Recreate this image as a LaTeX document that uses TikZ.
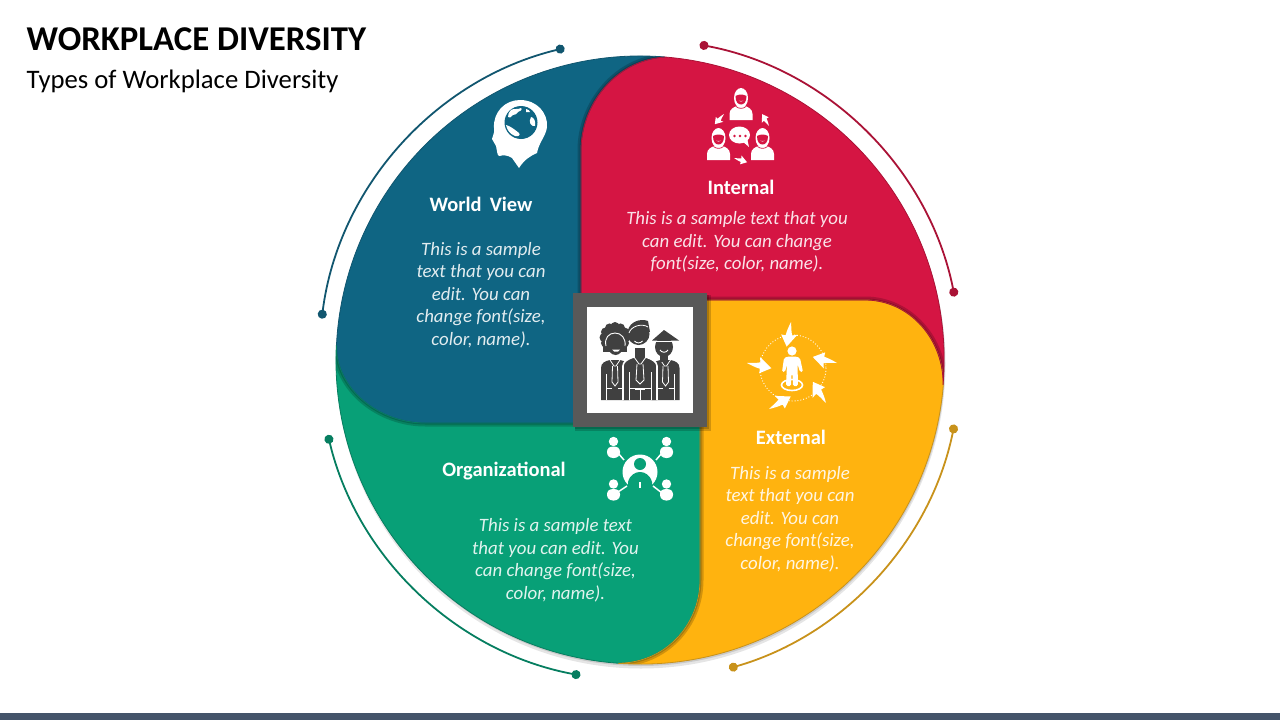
\documentclass[tikz,border=0pt]{standalone}
\usepackage{fontspec}
\setmainfont{Carlito}
\usetikzlibrary{arrows.meta}
\definecolor{bluepart}{HTML}{0F6583}
\definecolor{redpart}{HTML}{D51543}
\definecolor{yellowpart}{HTML}{FFB30F}
\definecolor{greenpart}{HTML}{08A077}
\definecolor{blueline}{HTML}{11566F}
\definecolor{redline}{HTML}{AA1236}
\definecolor{yellowline}{HTML}{C8921B}
\definecolor{greenline}{HTML}{067E60}
\definecolor{framegray}{HTML}{595959}
\definecolor{mangray}{HTML}{404040}
\definecolor{barblue}{HTML}{44546A}
% the four parts, in pixels of the slide
\def\bluepath{(665,57) arc[start angle=-85.3,end angle=-177.2,radius=304] .. controls (336,390) and (380,423) .. (425,423) -- (581,423) -- (581,150) .. controls (581,105) and (615,60) .. (665,57) -- cycle}
\def\redpath{(665,57) arc[start angle=-85.3,end angle=4.7,radius=304] .. controls (944,340) and (910,300) .. (865,300) -- (581,300) -- (581,150) .. controls (581,105) and (615,60) .. (665,57) -- cycle}
\def\yellowpath{(943.3,385) arc[start angle=4.7,end angle=94.2,radius=304] .. controls (665,663) and (700,625) .. (700,580) -- (700,300) -- (865,300) .. controls (910,300) and (944,340) .. (943.3,385) -- cycle}
\def\greenpath{(617.7,663.2) arc[start angle=94.2,end angle=182.8,radius=304] .. controls (336,390) and (380,423) .. (425,423) -- (700,423) -- (700,580) .. controls (700,625) and (665,663) .. (617.7,663.2) -- cycle}
\tikzset{
  talker/.pic={
    \fill[white] (0,-7) ellipse [x radius=7,y radius=10];
    \fill[white] (-11.5,15) -- (-11.5,9) .. controls (-11.5,4) and (-7,2) .. (-4,1) -- (4,1) .. controls (7,2) and (11.5,4) .. (11.5,9) -- (11.5,15) -- cycle;
    \fill[redpart] (-5.5,-9) .. controls (-2,-11) and (2,-11) .. (5.5,-9) .. controls (5.5,-3) and (3,-0.5) .. (0,-0.5) .. controls (-3,-0.5) and (-5.5,-3) .. (-5.5,-9) -- cycle;
    \fill[white,opacity=.6] (-2.5,-4.5) .. controls (-1,-3.8) and (1,-3.8) .. (2.5,-4.5) .. controls (1.5,-2.8) and (-1.5,-2.8) .. (-2.5,-4.5) -- cycle;
    \draw[redpart,line width=.7] (-5,1.5) .. controls (-2,4) and (2,4) .. (5,1.5);
  },
  curlarrow/.pic={
    \fill[white] (0,0) .. controls (6,-1.5) and (10,-2) .. (13,-3.5) -- (11.5,-8.5) -- (25,0) -- (14,7.5) -- (14,3) .. controls (9,2.5) and (5,1.5) .. (0,0) -- cycle;
  },
  smallperson/.pic={
    \fill[white] (0,-6.5) circle (4.7);
    \fill[white,rounded corners=2.5] (-6.5,7) -- (-6.5,1) -- (-3,-1.5) -- (3,-1.5) -- (6.5,1) -- (6.5,7) -- (3,10) -- (-3,10) -- cycle;
  },
  man/.pic={
    \fill[mangray] (-14,40) -- (-14,8) .. controls (-14,3) and (-10,1) .. (-5,0) -- (5,0) .. controls (10,1) and (14,3) .. (14,8) -- (14,40) -- cycle;
    \draw[white,line width=.8] (-5,0) -- (-1,6) -- (1,6) -- (5,0);
    \draw[white,line width=.8] (-2.5,6) -- (-3,22) -- (0,26) -- (3,22) -- (2.5,6);
    \draw[white,line width=.8] (-9,14) -- (-9,40) (9,14) -- (9,40);
    \draw[white,line width=.8] (-9,28) -- (-3,28) (3,28) -- (9,28);
  }
}
\begin{document}
\begin{tikzpicture}
      [x=1pt,y=-1pt,
      head node/.style={text=white,font=\fontsize{20.5}{24}\selectfont\bfseries},
      body node/.style={align=center,text=white,text opacity=.88,font=\fontsize{18.85}{22.5}\selectfont\itshape},
      ring line/.style={line width=1.8,{Circle[length=9pt]}-{Circle[length=9pt]}},
      edge shade/.style={draw=black,opacity=.18,line width=#1}]
      \useasboundingbox (0,0) rectangle (1280,720);
      \fill[barblue] (0,713) rectangle (1280,720);
      \node[anchor=west,inner sep=0,font=\fontsize{34.8}{40}\selectfont\bfseries] (title) at (26.5,39) {WORKPLACE DIVERSITY};
      \node[anchor=west,inner sep=0,font=\fontsize{26.7}{31}\selectfont] (subtitle) at (26.5,81) {Types of Workplace Diversity};
      % rings outside the wheel
      \draw[blueline,ring line] (640,360) ++(-103.6:321) arc[start angle=-103.6,end angle=-172.6,radius=321];
      \draw[redline,ring line] (640,360) ++(-79.3:321) arc[start angle=-79.3,end angle=-11.4,radius=321];
      \draw[yellowline,ring line] (640,360) ++(11.6:321) arc[start angle=11.6,end angle=73.9,radius=321];
      \draw[greenline,ring line] (640,360) ++(100.7:321) arc[start angle=100.7,end angle=166.5,radius=321];
      % soft shadow of the wheel
      \fill[black,opacity=.10] (641,364) circle (304.5);
      \fill[black,opacity=.12] (641,362) circle (304);
      % wheel
      \fill[bluepart] \bluepath;
      \fill[greenpart] \greenpath;
      \fill[yellowpart] \yellowpath;
      \fill[redpart] \redpath;
      \begin{scope}
        \clip \bluepath;
        \draw[edge shade=7] (581,300) -- (581,150) .. controls (581,105) and (615,60) .. (665,57);
        \draw[edge shade=3] (581,300) -- (581,150) .. controls (581,105) and (615,60) .. (665,57);
      \end{scope}
      \begin{scope}
        \clip \redpath;
        \draw[edge shade=7] (700,300) -- (865,300) .. controls (910,300) and (944,340) .. (943.3,385);
        \draw[edge shade=3] (700,300) -- (865,300) .. controls (910,300) and (944,340) .. (943.3,385);
      \end{scope}
      \begin{scope}
        \clip \yellowpath;
        \draw[edge shade=7] (700,423) -- (700,580) .. controls (700,625) and (665,663) .. (617.7,663.2);
        \draw[edge shade=3] (700,423) -- (700,580) .. controls (700,625) and (665,663) .. (617.7,663.2);
      \end{scope}
      \begin{scope}
        \clip \greenpath;
        \draw[edge shade=7] (336,345) .. controls (336,390) and (380,423) .. (425,423) -- (581,423);
        \draw[edge shade=3] (336,345) .. controls (336,390) and (380,423) .. (425,423) -- (581,423);
      \end{scope}
      \draw[blueline,line width=.8] \bluepath;
      \draw[greenline,line width=.8] \greenpath;
      \draw[yellowline,line width=.8] \yellowpath;
      \draw[redline,line width=.8] \redpath;
      % texts
      \node[head node] (h0) at (481,204.5) {World\, View};
      \node[head node] (h1) at (741,187.5) {Internal};
      \node[head node] (h2) at (791,437.5) {External};
      \node[head node] (h3) at (504,471) {Organizational};
      \node[body node] (b0) at (481,295) {This is a sample\\text that you can\\edit. You can\\change font(size,\\color, name).};
      \node[body node] (b1) at (737,242) {This is a sample text that you\\can edit. You can change\\font(size, color, name).};
      \node[body node] (b2) at (790,519) {This is a sample\\text that you can\\edit. You can\\change font(size,\\color, name).};
      \node[body node] (b3) at (555.5,560) {This is a sample text\\that you can edit. You\\can change font(size,\\color, name).};
      % head with the globe
      \fill[white] (519,168) -- (512,158) .. controls (508,155) and (503,155) .. (499,156) .. controls (497,155) and (497,150) .. (496,146) -- (492,139) .. controls (492,136) and (495,134) .. (494,128) .. controls (493,112) and (505,100) .. (520,100) .. controls (537,100) and (548,113) .. (547,127) .. controls (546,136) and (539,142) .. (537,153) .. controls (530,156) and (524,160) .. (519,168) -- cycle;
      \fill[bluepart] (521,122.5) circle (16.5);
      \fill[white] (511,110) .. controls (514,108) and (518,110) .. (521,108) .. controls (523,109) and (520,112) .. (518,112) .. controls (516,113) and (516,116) .. (513,115) .. controls (511,117) and (509,119) .. (508,117) .. controls (508,114) and (509,112) .. (511,110) -- cycle;
      \fill[white] (526,109) .. controls (528,109) and (530,111) .. (530,112) -- (526,112) -- cycle;
      \fill[white] (506,125) .. controls (510,126) and (514,129) .. (519,133) .. controls (521,135) and (518,137) .. (515,136) .. controls (510,134) and (507,130) .. (506,125) -- cycle;
      \fill[white] (531,117) .. controls (534,117) and (536,122) .. (535,126) .. controls (531,127) and (528,122) .. (531,117) -- cycle;
      % people who talk
      \pic at (741,105) {talker};
      \pic at (718.5,145) {talker};
      \pic at (762.5,145) {talker};
      \fill[white] (739.5,135) ellipse [x radius=10.5,y radius=8.5];
      \fill[white] (742,141) -- (749,147) -- (747,138) -- cycle;
      \fill[redpart] (734.5,136) circle (1.3) (740,136) circle (1.3) (745.5,136) circle (1.3);
      \pic[rotate=-132,scale=.55] at (724,114) {curlarrow};
      \pic[rotate=120,scale=.55] at (769,126) {curlarrow};
      \pic[rotate=-18,scale=.55] at (734,158) {curlarrow};
      % person with the arrows
      \draw[white,line width=.9,dotted] (793,368) circle (33);
      \fill[white] (792,351) circle (4.6);
      \fill[white,rounded corners=1.5] (782,372) -- (784,358) -- (788,356.5) -- (796,356.5) -- (800,358) -- (803,372) -- (800,372) -- (797.5,364) -- (798,386) -- (793,386) -- (792.5,374) -- (791.5,374) -- (791,386) -- (786,386) -- (787,364) -- (785,372) -- cycle;
      \draw[white,line width=1.6] (792,385) ellipse [x radius=10.5,y radius=5.5];
      \pic[rotate=-100] at (791,322) {curlarrow};
      \pic[rotate=166] at (837,363) {curlarrow};
      \pic[rotate=-12] at (747,363) {curlarrow};
      \pic[rotate=122] at (826,403) {curlarrow};
      \pic[rotate=30] at (769,409) {curlarrow};
      % network of people
      \fill[white] (640,472) circle (17.5);
      \fill[greenpart] (640,464) circle (6);
      \fill[greenpart] (628,492) -- (628,482) .. controls (630,475) and (635,472) .. (640,472) .. controls (645,472) and (650,475) .. (652,482) -- (652,492) -- cycle;
      \draw[white,line width=1.2] (640,482) -- (640,488);
      \pic at (613.5,448) {smallperson};
      \pic at (666.5,448) {smallperson};
      \pic at (613.5,490.5) {smallperson};
      \pic at (666.5,490.5) {smallperson};
      \draw[white,line width=1.5] (618,453) -- (624,460) (662,453) -- (656,460) (618,492) -- (627,486) (662,493) -- (653,486);
      % frame in the middle
      \fill[black,opacity=.18] (575,295) rectangle (711,431);
      \fill[black,opacity=.18] (575,295) rectangle (709,429);
      \fill[framegray] (573,293) rectangle (707,427);
      \fill[white] (587,307) rectangle (693,413);
      % three men
      \pic at (615,360) {man};
      \pic at (665.5,360) {man};
      \foreach \a in {0,30,...,330} \fill[mangray] (615,337.5) ++(\a:11) circle (4.5);
      \fill[mangray] (615,337.5) circle (12);
      \fill[mangray] (603,342) rectangle (627,352);
      \draw[white,line width=.9] (606,346) .. controls (604,338) and (609,333) .. (615,333) .. controls (621,333) and (626,338) .. (625,346);
      \fill[mangray] (615.5,345) ellipse [x radius=8,y radius=10];
      \fill[white] (612,349.5) -- (620,349.5) -- (618,351.5) -- (614,351.5) -- cycle;
      % right man, hat over the face
      \fill[mangray] (664,347) ellipse [x radius=9,y radius=10];
      \fill[mangray] (660,352) rectangle (668,362);
      \fill[white] (655,340.5) -- (673,340.5) -- (673,342) -- (655,342) -- cycle;
      \fill[mangray] (652,340.5) -- (664,330) -- (679,340.5) -- cycle;
      \draw[white,line width=.9] (660,350) .. controls (662,353) and (666,353) .. (668,350);
      % middle man
      \draw[white,line width=1.6,fill=mangray] (623,400) -- (623,366) .. controls (623,362) and (627,359) .. (634,357) -- (646,357) .. controls (652,359) and (657,362) .. (657,366) -- (657,400);
      \fill[mangray] (635,348) rectangle (645,360);
      \draw[white,line width=.8] (634,357) -- (639,364) -- (641,364) -- (646,357);
      \draw[white,line width=.8] (637,364) -- (636,380) -- (640,384) -- (644,380) -- (643,364);
      \draw[white,line width=.8] (629,372) -- (629,400) (651,372) -- (651,400);
      \draw[white,line width=.8] (629,388) -- (651,388) (635,389) -- (645,389) (640,389) -- (640,400);
      \fill[mangray] (638.5,334) circle (11);
      \fill[mangray] (628,330) .. controls (630,322) and (640,318) .. (648,321) -- (650,332) -- cycle;
      \draw[white,line width=.8] (629,333) .. controls (631,326) and (642,323) .. (648,327);
      \draw[white,line width=.9] (634.5,341) .. controls (636.5,343.5) and (640.5,343.5) .. (642.5,341);
\end{tikzpicture}
\end{document}
